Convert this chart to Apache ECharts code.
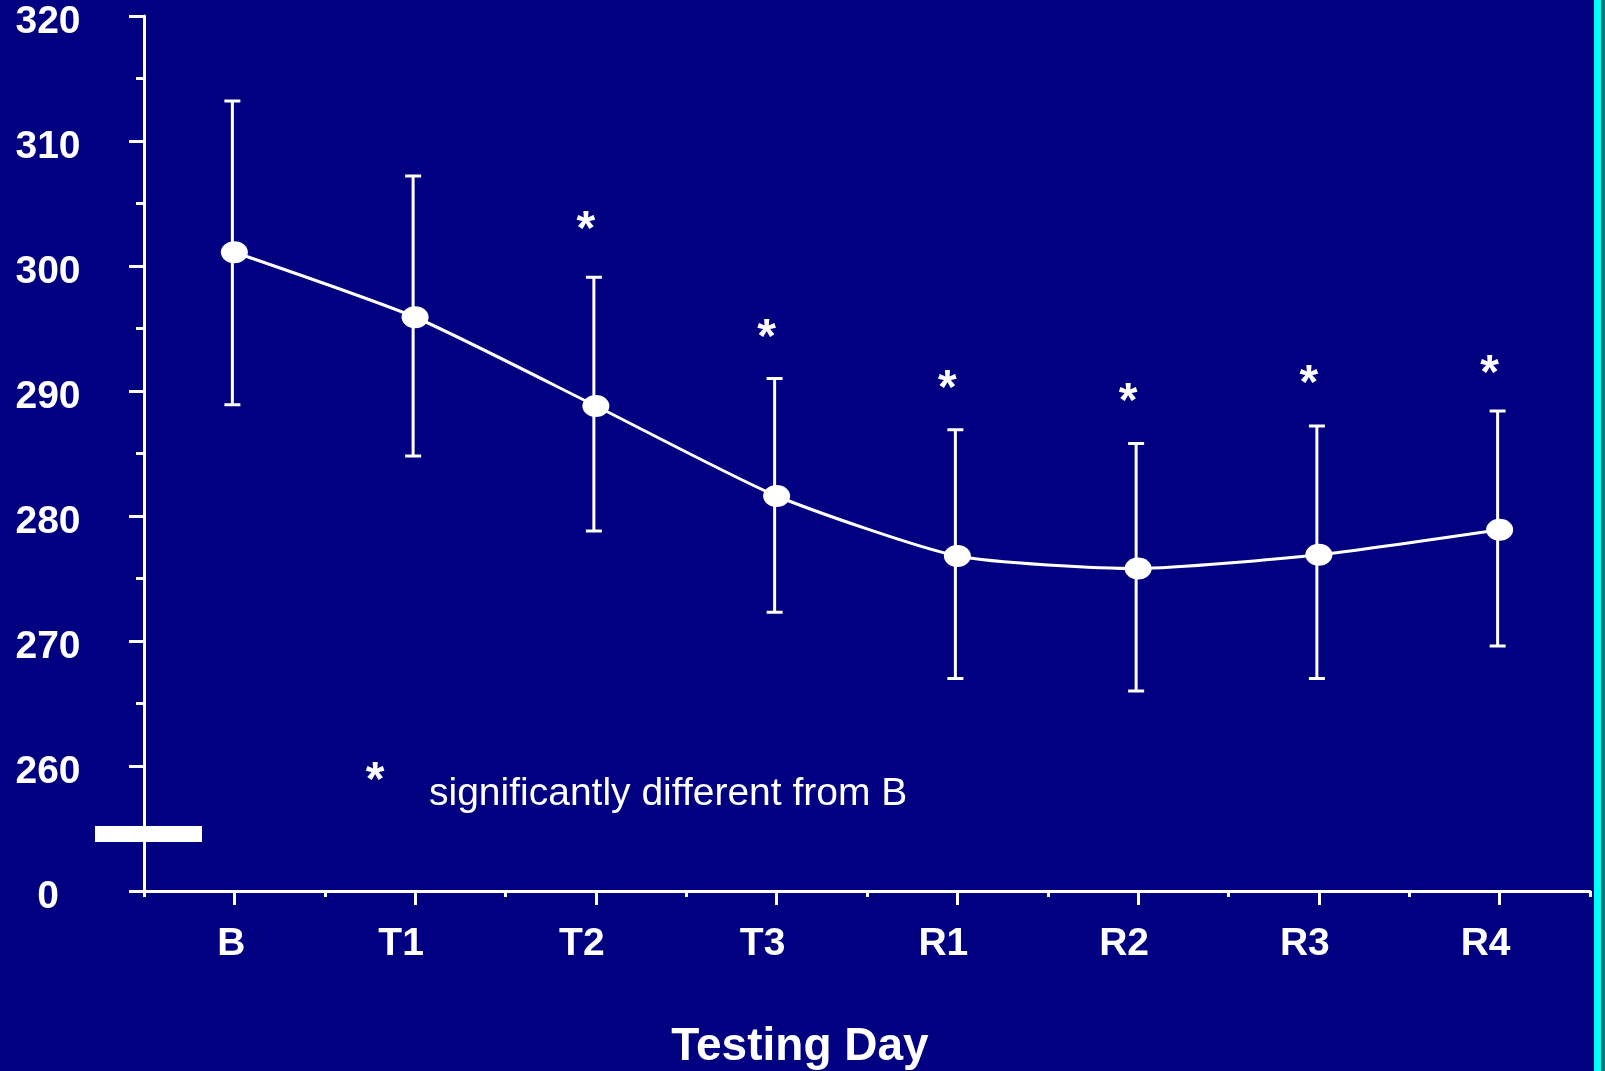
<!DOCTYPE html>
<html>
<head>
<meta charset="utf-8">
<script src="https://cdn.jsdelivr.net/npm/echarts@6/dist/echarts.min.js"></script>
<style>
  html, body { margin: 0; padding: 0; background: #000080; }
  #chart { width: 1605px; height: 1071px; }
</style>
</head>
<body>
<div id="chart"></div>
<script>
var days = ['B', 'T1', 'T2', 'T3', 'R1', 'R2', 'R3', 'R4'];
var meanVal = [301.1, 295.9, 288.8, 281.6, 276.8, 275.8, 276.9, 278.9];
var upperVal = [313.2, 307.2, 299.1, 291.0, 286.9, 285.8, 287.2, 288.4];
var lowerVal = [288.9, 284.8, 278.8, 272.3, 267.0, 266.0, 267.0, 269.6];
// days marked with * and the height where the mark sits
var sigDays = ['T2', 'T3', 'R1', 'R2', 'R3', 'R4'];
var sigMarkY = [303.5, 294.9, 290.8, 289.8, 291.2, 292.0];
// the axis is broken: its bottom (250) is labelled 0
var yTickLabels = {250: '0', 260: '260', 270: '270', 280: '280', 290: '290', 300: '300', 310: '310', 320: '320'};

var font = 'Liberation Sans, Arial, sans-serif';
var chart = echarts.init(document.getElementById('chart'));

var errData = [];
for (var i = 0; i < days.length; i++) {
    errData.push([i, upperVal[i], lowerVal[i]]);
}
var sigData = [];
for (var j = 0; j < sigDays.length; j++) {
    sigData.push([sigDays[j], sigMarkY[j]]);
}

var option = {
    backgroundColor: '#000080',
    animation: false,
    grid: { left: 144, right: 15, top: 16, bottom: 180 },
    xAxis: [{
        type: 'category',
        data: days,
        position: 'bottom',
        boundaryGap: true,
        axisLine: { lineStyle: { color: '#fff', width: 3 } },
        axisTick: { show: true, length: 6, interval: 0, lineStyle: { color: '#fff', width: 3 } },
        axisLabel: { show: false },
        splitLine: { show: false }
    }, {
        type: 'category',
        data: days,
        position: 'bottom',
        offset: 0,
        boundaryGap: true,
        axisLine: { show: false },
        axisTick: { show: true, alignWithLabel: true, length: 14, interval: 0, lineStyle: { color: '#fff', width: 3 } },
        axisLabel: {
            interval: 0,
            margin: 34,
            color: '#fff',
            fontFamily: font,
            fontWeight: 'bold',
            fontSize: 39,
            formatter: function (v) {
                return v.length > 1 ? '{two|' + v + '}' : '{one|' + v + '}';
            },
            rich: {
                one: { color: '#fff', fontFamily: font, fontWeight: 'bold', fontSize: 39, padding: [0, 6, 0, 0] },
                two: { color: '#fff', fontFamily: font, fontWeight: 'bold', fontSize: 39, padding: [0, 28, 0, 0] }
            }
        },
        splitLine: { show: false }
    }],
    yAxis: {
        type: 'value',
        min: 250,
        max: 320,
        interval: 10,
        axisLine: { show: true, lineStyle: { color: '#fff', width: 3 } },
        axisTick: { show: true, length: 15, lineStyle: { color: '#fff', width: 3 } },
        minorTick: { show: true, splitNumber: 2, length: 8, lineStyle: { color: '#fff', width: 3 } },
        splitLine: { show: false },
        axisLabel: {
            margin: 96,
            align: 'center',
            color: '#fff',
            fontFamily: font,
            fontWeight: 'bold',
            fontSize: 39,
            formatter: function (v) { return '{t|' + yTickLabels[v] + '}'; },
            rich: {
                t: { color: '#fff', fontFamily: font, fontWeight: 'bold', fontSize: 39, padding: [13, 0, 0, 0] }
            }
        }
    },
    series: [{
        name: 'SD',
        type: 'custom',
        z: 2,
        data: errData,
        renderItem: function (params, api) {
            var top = api.coord([api.value(0), api.value(1)]);
            var bot = api.coord([api.value(0), api.value(2)]);
            var x = top[0] - 2;
            var st = { stroke: '#fff', lineWidth: 3 };
            return {
                type: 'group',
                children: [
                    { type: 'line', shape: { x1: x, y1: top[1], x2: x, y2: bot[1] }, style: st },
                    { type: 'line', shape: { x1: x - 8, y1: top[1], x2: x + 8, y2: top[1] }, style: st },
                    { type: 'line', shape: { x1: x - 8, y1: bot[1], x2: x + 8, y2: bot[1] }, style: st }
                ]
            };
        }
    }, {
        name: 'mean',
        type: 'line',
        z: 3,
        data: meanVal,
        smooth: 0.2,
        symbol: 'circle',
        symbolSize: [27, 22],
        itemStyle: { color: '#fff' },
        lineStyle: { color: '#fff', width: 3 }
    }, {
        name: 'sig',
        type: 'scatter',
        z: 4,
        data: sigData,
        symbolSize: 0,
        itemStyle: { opacity: 1, color: '#fff' },
        label: {
            show: true,
            position: 'inside',
            formatter: '*',
            offset: [-10, 9],
            color: '#fff',
            fontFamily: font,
            fontWeight: 'bold',
            fontSize: 48
        }
    }],
    graphic: [
        { type: 'rect', shape: { x: 95, y: 826, width: 107, height: 16 }, style: { fill: '#fff' }, z: 10 },
        { type: 'text', x: 375, y: 782, style: { text: '*', fill: '#fff', font: 'bold 48px ' + font, textAlign: 'center', textVerticalAlign: 'middle' } },
        { type: 'text', x: 429, y: 794, style: { text: 'significantly different from B', fill: '#fff', font: '39px ' + font, textAlign: 'left', textVerticalAlign: 'middle' } },
        { type: 'text', x: 800, y: 1047, style: { text: 'Testing Day', fill: '#fff', font: 'bold 46px ' + font, textAlign: 'center', textVerticalAlign: 'middle' } },
        { type: 'rect', shape: { x: 1594, y: 0, width: 7, height: 1071 }, style: { fill: '#00ffff' } },
        { type: 'rect', shape: { x: 1601, y: 0, width: 4, height: 1071 }, style: { fill: '#007f70' } }
    ]
};
chart.setOption(option);
</script>
</body>
</html>
